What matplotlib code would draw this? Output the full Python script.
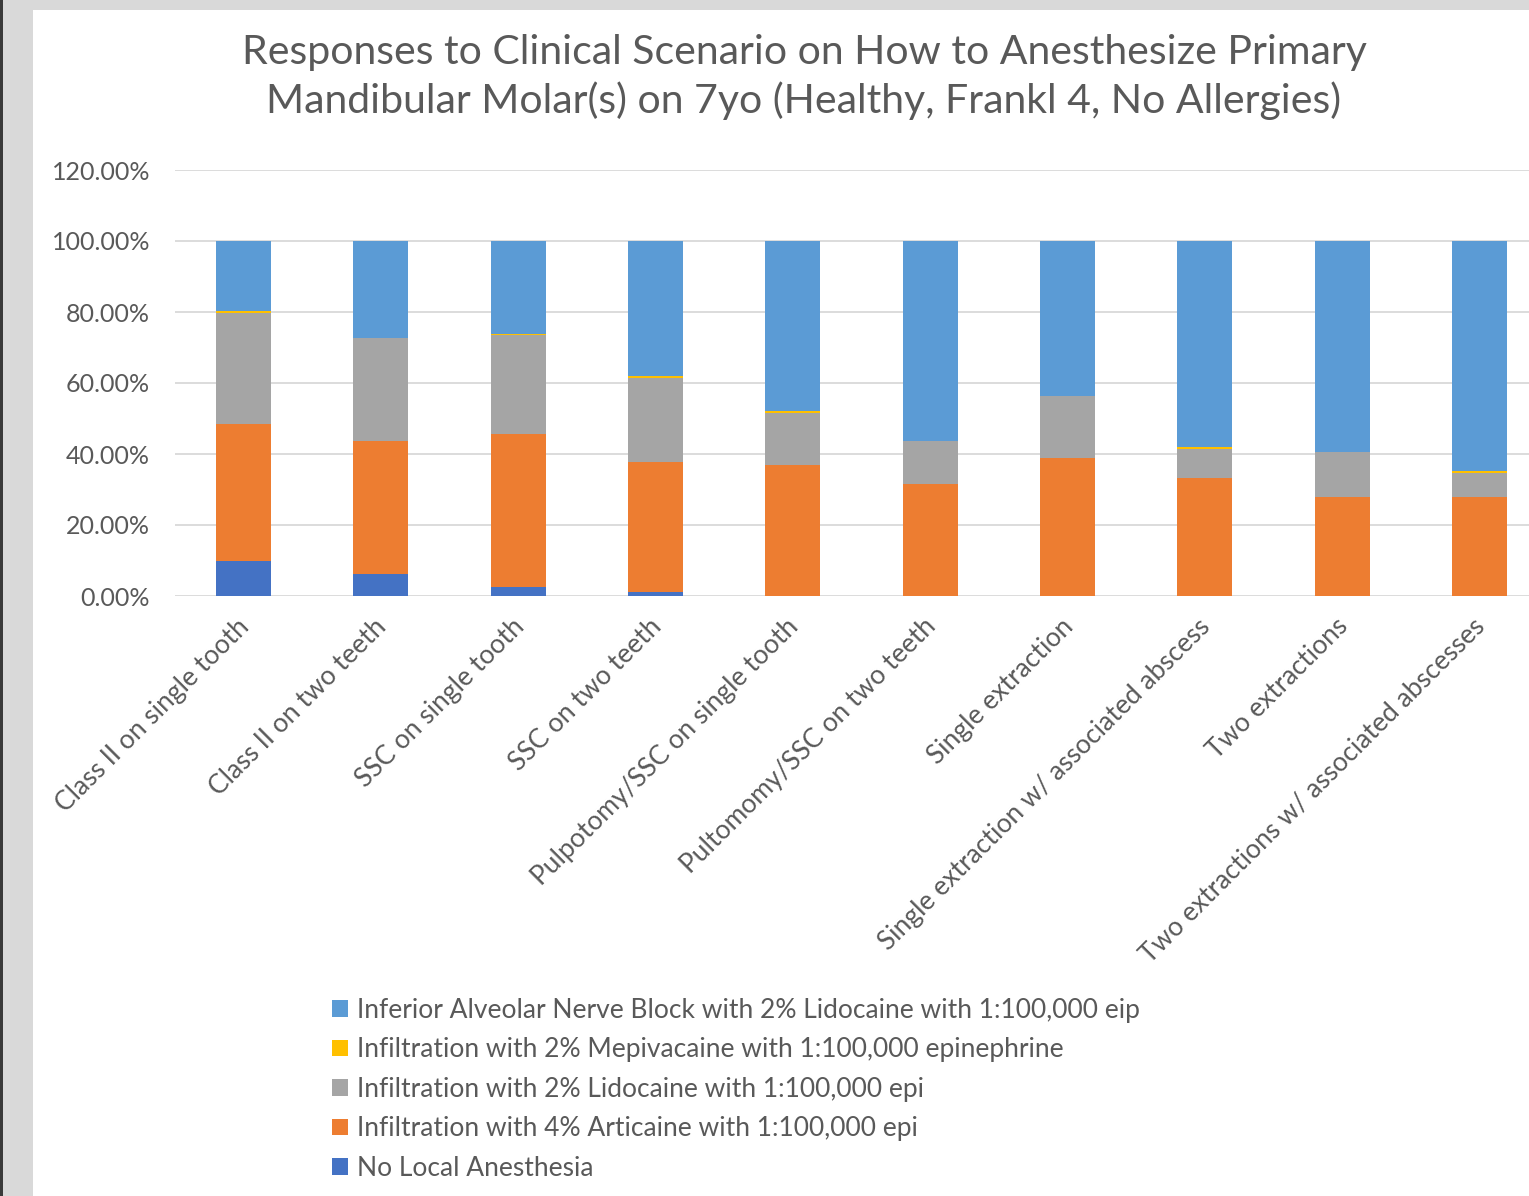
import matplotlib
matplotlib.use("Agg")
import matplotlib.pyplot as plt
from matplotlib.patches import Patch, Rectangle
from matplotlib.transforms import ScaledTranslation
import numpy as np

categories = [
    "Class II on single tooth",
    "Class II on two teeth",
    "SSC on single tooth",
    "SSC on two teeth",
    "Pulpotomy/SSC on single tooth",
    "Pultomomy/SSC on two teeth",
    "Single extraction",
    "Single extraction w/ associated abscess",
    "Two extractions",
    "Two extractions w/ associated abscesses",
]

no_local = [9.8, 6.1, 2.4, 1.2, 0.0, 0.0, 0.0, 0.0, 0.0, 0.0]
articaine = [38.7, 37.5, 43.1, 36.5, 36.9, 31.5, 38.8, 33.3, 27.9, 27.9]
lidocaine = [31.3, 29.1, 27.9, 23.6, 14.7, 12.1, 17.6, 8.0, 12.8, 6.8]
mepivacaine = [0.4, 0.0, 0.5, 0.6, 0.6, 0.0, 0.0, 0.6, 0.0, 0.6]
ianb = [19.8, 27.3, 26.1, 38.1, 47.8, 56.4, 43.6, 58.1, 59.3, 64.7]

series_names = [
    "No Local Anesthesia",
    "Infiltration with 4% Articaine with 1:100,000 epi",
    "Infiltration with 2% Lidocaine with 1:100,000 epi",
    "Infiltration with 2% Mepivacaine with 1:100,000 epinephrine",
    "Inferior Alveolar Nerve Block with 2% Lidocaine with 1:100,000 eip",
]
series_vals = [no_local, articaine, lidocaine, mepivacaine, ianb]
colors = ["#4472C4", "#ED7D31", "#A5A5A5", "#FFC000", "#5B9BD5"]

yticks = [0, 20, 40, 60, 80, 100, 120]
title = ("Responses to Clinical Scenario on How to Anesthesize Primary\n"
         "Mandibular Molar(s) on 7yo (Healthy, Frankl 4, No Allergies)")

plt.rcParams['font.family'] = ['Lato', 'DejaVu Sans']
txt = "#595959"

W, H = 1529, 1196
fig = plt.figure(figsize=(W / 100, H / 100), dpi=100)
fig.patch.set_facecolor("#d9d9d9")
fig.patches.append(Rectangle((33 / W, 0), 1, 1 - 10 / H, transform=fig.transFigure,
                             facecolor="white", edgecolor="none", zorder=-5))
fig.patches.append(Rectangle((0, 0), 3 / W, 1, transform=fig.transFigure,
                             facecolor="#3a3a3a", edgecolor="none", zorder=-5))

ax = fig.add_axes([175 / W, 1 - 596 / H, (1548 - 175) / W, (596 - 170) / H])
ax.set_facecolor("none")
x = np.arange(len(categories))
bottom = np.zeros(len(categories))
handles = []
for name, vals, c in zip(series_names, series_vals, colors):
    v = np.array(vals)
    ax.bar(x, v, 0.4, bottom=bottom, color=c, zorder=3, label=name)
    bottom += v
    handles.append(Patch(facecolor=c, label=name))

ax.set_xlim(-0.5, len(categories) - 0.5)
ax.set_ylim(0, 120)
ax.set_yticks(yticks)
ax.set_yticklabels([f"{t:.2f}%" for t in yticks], color=txt, fontsize=18)
ax.grid(axis="y", color="#d9d9d9", linewidth=1.3, zorder=0)
for s in ax.spines.values():
    s.set_visible(False)
ax.tick_params(axis="both", length=0)
ax.tick_params(axis="y", pad=18)
ax.set_xticks(x)
ax.set_xticklabels(categories, rotation=45, ha="right", va="top",
                   rotation_mode="anchor", color=txt, fontsize=19)
ax.tick_params(axis="x", pad=10)
off = ScaledTranslation(-7 / 100, -4 / 100, fig.dpi_scale_trans)
for lab in ax.get_xticklabels():
    lab.set_transform(lab.get_transform() + off)

fig.text(804 / W, 1 - 77 / H, title, ha="center", va="center", fontsize=29.5,
         color=txt, linespacing=1.35)

fig.legend(handles=handles[::-1], loc="upper left",
           bbox_to_anchor=(308 / W, 1 - 974 / H), frameon=False,
           fontsize=19, labelcolor=txt, handlelength=0.6, handleheight=0.6,
           handletextpad=0.35, labelspacing=0.55)

fig.savefig("out.png", dpi=100, facecolor=fig.get_facecolor())
